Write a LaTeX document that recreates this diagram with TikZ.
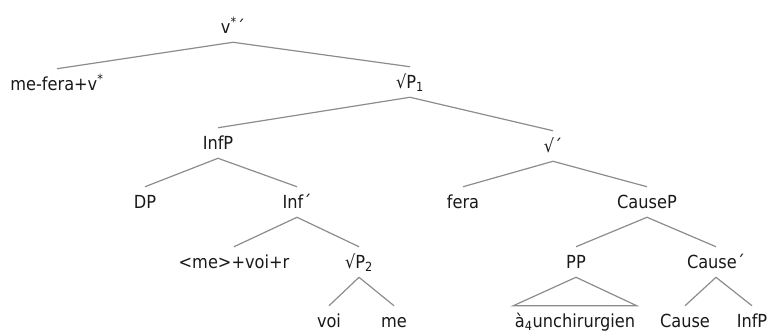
\documentclass[tikz,border=0pt]{standalone}
\usepackage{fontspec}
\setmainfont{DejaVu Sans Condensed}

\begin{document}
\begin{tikzpicture}[x=0.75pt, y=-0.75pt,
		every node/.style={font=\fontsize{13.5}{16}\selectfont, text=black!90, text height=9.8pt, text depth=0pt, minimum height=22.5pt, inner xsep=1pt, inner ysep=0pt},
		branch/.style={draw=black!45, line width=0.9pt}]
			\useasboundingbox (0,0) rectangle (770,333);

			% Labels
			\node (vbar) at (233,27) {v\textsuperscript{*}´};
			\node (mefera) at (57,84) {me-fera+v\textsuperscript{*}};
			\node (rootP) at (410,82) {√P\textsubscript{1}};
			\node (infP) at (218,143) {InfP};
			\node (rootbar) at (553,146) {√´};
			\node (dp) at (145,202) {DP};
			\node (infbar) at (297,202) {Inf´};
			\node (fera) at (463,202) {fera};
			\node (causeP) at (647,202) {CauseP};
			\node (mevoir) at (234,262) {<me>+voi+r};
			\node (rootPb) at (359,262) {√P\textsubscript{2}};
			\node (pp) at (576,262) {PP};
			\node (causebar) at (716,262) {Cause´};
			\node (voi) at (329,321) {voi};
			\node (me) at (394,321) {me};
			\node (chir) at (575,321) {à\textsubscript{4}unchirurgien};
			\node (cause) at (685,321) {Cause};
			\node (infPb) at (752,321) {InfP};

			% Branches
			\draw[branch] (vbar.south) -- (mefera.north);
			\draw[branch] (vbar.south) -- (rootP.north);
			\draw[branch] (rootP.south) -- (infP.north);
			\draw[branch] (rootP.south) -- (rootbar.north);
			\draw[branch] (infP.south) -- (dp.north);
			\draw[branch] (infP.south) -- (infbar.north);
			\draw[branch] (rootbar.south) -- (fera.north);
			\draw[branch] (rootbar.south) -- (causeP.north);
			\draw[branch] (infbar.south) -- (mevoir.north);
			\draw[branch] (infbar.south) -- (rootPb.north);
			\draw[branch] (causeP.south) -- (pp.north);
			\draw[branch] (causeP.south) -- (causebar.north);
			\draw[branch] (rootPb.south) -- (voi.north);
			\draw[branch] (rootPb.south) -- (me.north);
			\draw[branch] (causebar.south) -- (cause.north);
			\draw[branch] (causebar.south) -- (infPb.north);

			% Triangle
			\draw[branch] (pp.south) -- (chir.north west) -- (chir.north east) -- cycle;
		\end{tikzpicture}
\end{document}
